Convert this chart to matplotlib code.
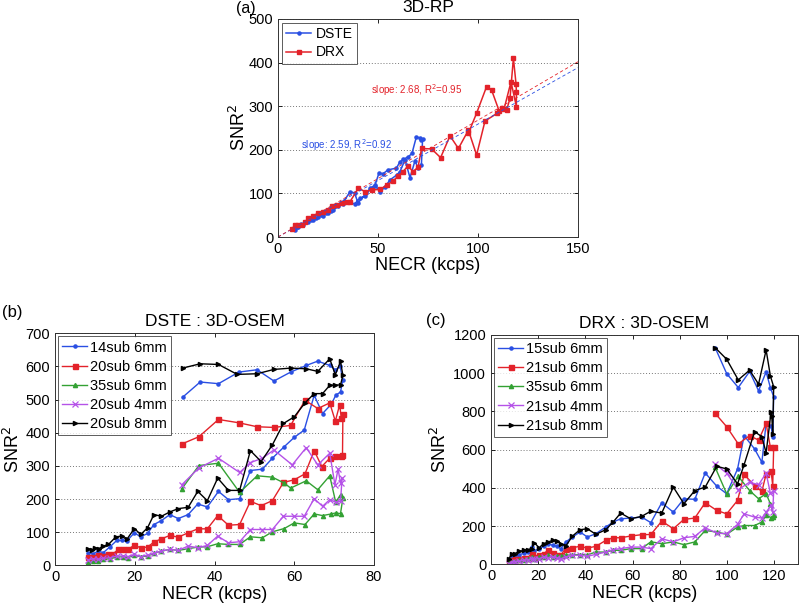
import matplotlib
matplotlib.use("Agg")
import matplotlib.pyplot as plt
import numpy as np

plt.rcParams['font.family'] = ['Liberation Sans', 'DejaVu Sans']

# ---------------- Panel (a): 3D-RP ----------------
a_dste_x = [8.5, 9.5, 10.2, 11.5, 12.7, 14, 15.2, 16.5, 17.7, 19, 20.2, 21.5, 22.7, 24, 25.2, 26.5,
            27.7, 30.2, 32.7, 35.2, 38.3, 41, 43.5, 46, 48.5, 51, 53.5, 56, 59.3, 61, 63.5, 66, 68.5,
            70, 71.7, 72.3,
            71.7, 70.8, 69.2, 67, 65.2, 62.5, 60.8, 59.2, 55, 52.5, 50.5, 48.3, 44.2, 40, 38.3, 36, 33]
a_dste_y = [16, 22, 24, 30, 27, 34, 35, 40, 39, 44, 45, 50, 48, 55, 56, 60,
            62, 70, 76, 81, 76, 89, 93, 112, 119, 103, 115, 131, 142, 150, 177, 136, 175,
            158, 166, 225,
            222, 227, 230, 192, 184, 178, 171, 158, 154, 145, 147, 116, 101, 78, 101, 104, 82]
a_drx_x = [6.8, 8.5, 10.2, 11.8, 13.5, 15.2, 17.7, 20.2, 22.7, 25.2, 26.8, 29.3, 31.8, 34.3, 36,
           40.2, 43.5, 46.8, 51, 54.3, 57.5, 60, 62.5, 65, 67.5, 70, 71.8, 76.8, 81.3, 86, 90.2,
           95.2, 99.3, 103.5, 109.7, 111.8, 114.3, 116, 117.7, 119, 119.2, 119.2,
           116.5, 113, 110.5, 106.8, 104.3, 99.3, 95.2]
a_drx_y = [18, 27, 28, 27, 35, 43, 48, 56, 58, 62, 71, 73, 79, 81, 81,
           112, 104, 108, 109, 119, 128, 140, 150, 163, 150, 160, 203, 202, 182, 232, 203,
           245, 188, 266, 284, 295, 291, 318, 410, 352, 333, 299,
           356, 293, 290, 337, 345, 284, 238]
a_slopes = [2.59, 2.68]
a_r2 = [0.92, 0.95]

# ---------------- Panel (b): DSTE 3D-OSEM ----------------
b_labels = ['14sub 6mm', '20sub 6mm', '35sub 6mm', '20sub 4mm', '20sub 8mm']
b_blue_x = [8.4, 9.6, 10.9, 12.1, 13.8, 15.5, 16.7, 18, 19.9, 21.5, 23.2, 24.8, 26.7, 28.8, 30.9,
            33.4, 35.8, 38.2, 41, 43.5, 46.3, 49, 52, 54.5, 57.5, 60, 62.5, 65, 67.1, 69.3, 70.4,
            71.6, 72.2,
            71.5, 70.3, 68.9, 65.9, 63, 59.1, 54.9, 50.7, 46.1, 41, 36.4, 32]
b_blue_y = [38, 35, 43, 38, 56, 75, 75, 73, 98, 86, 96, 123, 135, 153, 141,
            153, 185, 176, 223, 198, 201, 286, 290, 323, 358, 386, 408, 513, 458, 486, 513,
            523, 560,
            600, 590, 603, 616, 603, 583, 556, 590, 583, 548, 553, 507]
b_red_x = [8.4, 9.6, 10.9, 12.1, 13.4, 14.6, 15.9, 17.1, 18.2, 19.9, 21.5, 23.2, 24.8, 26.7, 28.8,
           30.9, 33.4, 35.8, 38.2, 40.8, 43.5, 46.3, 49, 51.7, 54.5, 57.3, 60, 62.7, 65, 66.9,
           68.9, 70.3, 71.6, 72.1,
           72.2, 71.8, 71.4, 70.3, 68.9, 65.9, 62.7, 59.1, 54.9, 50.7, 46.1, 41, 36.1, 31.8]
b_red_y = [26, 26, 30, 28, 35, 35, 48, 48, 48, 60, 53, 55, 70, 80, 90,
           85, 98, 110, 110, 150, 121, 123, 193, 180, 195, 250, 258, 276, 346, 298,
           323, 330, 330, 332,
           458, 443, 485, 435, 490, 473, 498, 422, 416, 418, 430, 440, 388, 366]
b_green_x = [8.4, 9.6, 10.9, 12.1, 13.8, 15.5, 17.1, 18.2, 19.9, 21.5, 23.2, 24.8, 26.7, 28.8,
             30.9, 33.4, 35.8, 38.2, 40.8, 43.5, 46.3, 49, 52, 54.5, 57.5, 60, 62.7, 65, 67.1,
             69.3, 70.4, 71.6, 72.2,
             71.6, 70.4, 68.9, 65.9, 63, 59.1, 57.5, 54.5, 50.7, 46.3, 41, 36.1, 31.8]
b_green_y = [10, 12, 13, 18, 20, 25, 26, 23, 30, 26, 28, 36, 43, 48,
             45, 50, 55, 56, 65, 63, 63, 86, 83, 101, 111, 128, 123, 155, 150,
             155, 158, 156, 203,
             213, 190, 270, 228, 255, 233, 248, 266, 270, 220, 308, 301, 231]
b_purple_x = [8.4, 9.6, 10.9, 12.1, 13.8, 15.5, 17.1, 18.2, 19.9, 21.5, 23.2, 24.8, 26.7, 28.8,
              30.9, 33.4, 35.8, 38.2, 40.8, 43.5, 46.3, 49, 52, 54.5, 57.3, 60, 62.5, 65, 67.1,
              68.9, 70.5, 71.6, 72,
              71.6, 71, 70.2, 68.9, 65.9, 63, 59.5, 54.9, 52, 49, 46.3, 41, 36.1, 31.8]
b_purple_y = [16, 20, 18, 21, 23, 28, 28, 26, 33, 26, 31, 36, 43, 48,
              45, 58, 53, 60, 88, 68, 71, 108, 108, 108, 148, 148, 148, 201, 178,
              198, 190, 193, 263,
              248, 290, 243, 338, 303, 355, 303, 348, 323, 310, 280, 323, 294, 243]
b_black_x = [8.4, 9.2, 10, 11, 12.1, 13.4, 15.3, 16.7, 18, 19.9, 21.5, 23.2, 24.8, 26.7, 28.8,
             30.9, 33.4, 35.8, 38.2, 40.8, 43.5, 46.3, 49, 51.7, 54.5, 57.3, 60, 62.7, 65, 67.1,
             68.9, 70.3, 71.6, 72.2,
             71.6, 70.3, 68.9, 65.9, 63, 59.1, 54.9, 50.7, 45.7, 41, 36.4, 32]
b_black_y = [50, 45, 53, 50, 58, 63, 86, 88, 78, 111, 93, 113, 153, 148, 161,
             171, 175, 223, 195, 263, 226, 226, 346, 313, 363, 428, 448, 490, 518, 518,
             543, 544, 544, 573,
             615, 575, 623, 585, 593, 595, 591, 578, 576, 606, 608, 595]

# ---------------- Panel (c): DRX 3D-OSEM ----------------
c_labels = ['15sub 6mm', '21sub 6mm', '35sub 6mm', '21sub 4mm', '21sub 8mm']
c_asc_x = [7.7, 8.7, 10.1, 12, 14.1, 15.5, 17.3, 18.3, 20.4, 22.3, 24.2, 26.1, 27.9, 29.6, 31.7,
           34.5, 37.7, 40.8, 44.4, 48.6, 51.7, 54.9, 59.2, 63.8, 67.7, 72.3, 77.2, 81.7, 86.3,
           90.7, 95.6, 99.8, 104.4, 107.2, 111.6, 114.7, 116.5, 118.6, 119.3]
c_desc_x = [119.7, 118.3, 116.5, 113.3, 109.5, 104.7, 99.8, 94.9]
c_blue_y = [21, 38, 38, 50, 59, 64, 90, 70, 82, 94, 108, 99, 94, 82, 117,
            143, 169, 143, 160, 195, 221, 238, 242, 247, 218, 322, 273, 343, 340,
            478, 409, 369, 499, 673, 604, 534, 739, 725, 664,
            877, 925, 1007, 908, 1009, 925, 998, 1134]
c_red_y = [16, 24, 26, 30, 33, 35, 56, 38, 47, 56, 73, 59, 47, 50, 82,
           87, 94, 85, 94, 125, 139, 139, 148, 155, 156, 226, 186, 235, 242,
           322, 282, 264, 334, 470, 412, 381, 473, 487, 412,
           612, 612, 737, 650, 673, 630, 720, 790]
c_green_y = [7, 12, 14, 21, 21, 26, 38, 30, 38, 38, 47, 38, 42, 42, 47,
             50, 50, 50, 64, 64, 73, 73, 82, 82, 118, 108, 117, 103, 117,
             177, 169, 157, 195, 203, 203, 221, 259, 243, 250,
             256, 317, 369, 343, 386, 460, 369, 508]
c_purple_y = [4, 12, 14, 17, 21, 24, 28, 26, 30, 38, 35, 38, 35, 30, 38,
              47, 47, 42, 52, 64, 77, 82, 90, 90, 82, 134, 117, 139, 146,
              191, 163, 160, 209, 264, 247, 242, 273, 308, 273,
              383, 372, 477, 416, 430, 390, 477, 525]
c_black_y = [30, 56, 56, 68, 73, 77, 82, 113, 87, 108, 117, 125, 120, 108, 96,
             148, 181, 186, 157, 181, 221, 268, 238, 251, 278, 268, 404, 317, 386,
             404, 513, 499, 421, 522, 694, 668, 583, 798, 774, 683,
             929, 986, 1122, 943, 1016, 965, 1073, 1134]
c_black_x = c_asc_x[:-1] + [118.9, 119.3] + c_desc_x

BLUE = '#2a4fe3'
RED = '#e3222a'
GREEN = '#33a133'
PURPLE = '#b552e8'
BLACK = '#000000'

styles = [
    dict(color=BLUE, marker='.', ms=4.5),
    dict(color=RED, marker='s', ms=3.6),
    dict(color=GREEN, marker='^', ms=3.0),
    dict(color=PURPLE, marker='x', ms=4.2, mew=0.9),
    dict(color=BLACK, marker='>', ms=3.0),
]

fig = plt.figure(figsize=(8.01, 6.10), dpi=100)

def style_axes(ax):
    ax.tick_params(direction='in', top=True, right=True, labelsize=10.5, length=3, width=0.6)
    for s in ax.spines.values():
        s.set_linewidth(0.7)
        s.set_color('#333333')
    ax.yaxis.grid(True, linestyle=(0, (1, 2)), color='#777777', linewidth=0.7)
    ax.set_axisbelow(True)

# (a)
axa = fig.add_axes([278/801, 1-237/610, 300/801, 218/610])
axa.plot(a_dste_x, a_dste_y, color=BLUE, marker='.', ms=4.5, lw=1.1, label='DSTE')
axa.plot(a_drx_x, a_drx_y, color=RED, marker='s', ms=2.6, lw=1.1, label='DRX')
fx = np.array([0, 150])
axa.plot(fx, a_slopes[0]*fx, color=BLUE, ls=(0, (4, 3)), lw=0.6)
axa.plot(fx, a_slopes[1]*fx, color=RED, ls=(0, (4, 3)), lw=0.6)
axa.text(69.5, 337, 'slope: %.2f, R$^2$=%.2f' % (a_slopes[1], a_r2[1]), color=RED,
         fontsize=7, ha='center', va='center')
axa.text(34, 211, 'slope: %.2f, R$^2$=%.2f' % (a_slopes[0], a_r2[0]), color=BLUE,
         fontsize=7, ha='center', va='center')
axa.set_xlim(0, 150)
axa.set_ylim(0, 500)
axa.set_xticks([0, 50, 100, 150])
axa.set_yticks([0, 100, 200, 300, 400, 500])
style_axes(axa)
axa.set_xlabel('NECR (kcps)', fontsize=13, labelpad=1)
axa.set_ylabel('SNR$^2$', fontsize=13, labelpad=0)
axa.set_title('3D-RP', fontsize=12.5, pad=5)
leg = axa.legend(loc='upper left', fontsize=10, fancybox=False, edgecolor='#333333',
                 handlelength=1.8, borderpad=0.3, labelspacing=0.3, handletextpad=0.3,
                 borderaxespad=0.3)
leg.get_frame().set_linewidth(0.7)
fig.text(236/801, 1-9/610, '(a)', fontsize=11.5, ha='left', va='center')

# (b)
axb = fig.add_axes([55/801, 1-565.3/610, 319/801, 232/610])
b_series = [(b_blue_x, b_blue_y), (b_red_x, b_red_y), (b_green_x, b_green_y),
            (b_purple_x, b_purple_y), (b_black_x, b_black_y)]
for (x, y), st, lab in zip(b_series, styles, b_labels):
    axb.plot(x, y, lw=1.0, label=lab, **st)
axb.set_xlim(0, 80)
axb.set_ylim(0, 700)
axb.set_xticks([0, 20, 40, 60, 80])
axb.set_yticks(range(0, 701, 100))
style_axes(axb)
axb.set_xlabel('NECR (kcps)', fontsize=13, labelpad=1)
axb.set_ylabel('SNR$^2$', fontsize=13, labelpad=2)
axb.set_title('DSTE : 3D-OSEM', fontsize=12.5, pad=5)
leg = axb.legend(loc='upper left', fontsize=10.5, fancybox=False, edgecolor='#333333',
                 handlelength=1.7, borderpad=0.3, labelspacing=0.35, handletextpad=0.2,
                 borderaxespad=0.2)
leg.get_frame().set_linewidth(0.7)
fig.text(2/801, 1-313/610, '(b)', fontsize=12, ha='left', va='center')

# (c)
axc = fig.add_axes([491/801, 1-564.3/610, 307/801, 229.3/610])
cx = c_asc_x + c_desc_x
c_series = [(cx, c_blue_y), (cx, c_red_y), (cx, c_green_y), (cx, c_purple_y), (c_black_x, c_black_y)]
for (x, y), st, lab in zip(c_series, styles, c_labels):
    axc.plot(x, y, lw=1.0, label=lab, **st)
axc.set_xlim(0, 130)
axc.set_ylim(0, 1200)
axc.set_xticks([0, 20, 40, 60, 80, 100, 120])
axc.set_yticks(range(0, 1201, 200))
style_axes(axc)
axc.set_xlabel('NECR (kcps)', fontsize=13, labelpad=1)
axc.set_ylabel('SNR$^2$', fontsize=13, labelpad=2)
axc.set_title('DRX : 3D-OSEM', fontsize=12.5, pad=5)
leg = axc.legend(loc='upper left', fontsize=10.5, fancybox=False, edgecolor='#333333',
                 handlelength=1.7, borderpad=0.3, labelspacing=0.35, handletextpad=0.2,
                 borderaxespad=0.2)
leg.get_frame().set_linewidth(0.7)
fig.text(426/801, 1-320/610, '(c)', fontsize=12, ha='left', va='center')

fig.savefig('out.png', dpi=100)
